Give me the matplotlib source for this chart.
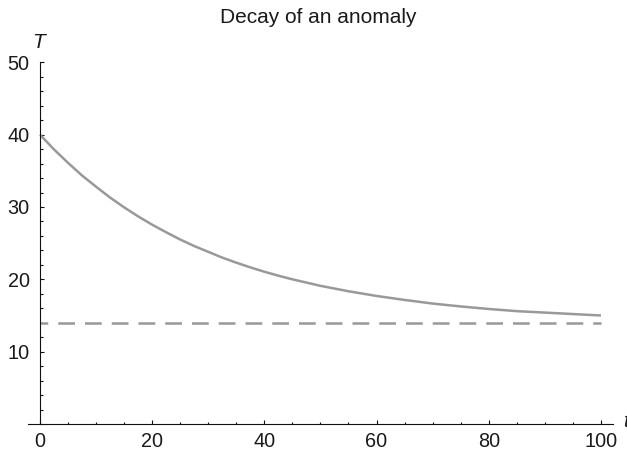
import matplotlib.pyplot as plt
from matplotlib.ticker import MultipleLocator

t = [0, 2.5, 5, 7.5, 10, 12.5, 15, 17.5, 20, 22.5, 25, 27.5, 30, 32.5, 35,
     37.5, 40, 42.5, 45, 47.5, 50, 55, 60, 65, 70, 75, 80, 85, 90, 95, 100]
T = [40.0, 37.95, 36.1, 34.35, 32.8, 31.3, 29.95, 28.7, 27.55, 26.5, 25.5,
     24.6, 23.8, 23.0, 22.3, 21.65, 21.05, 20.5, 20.0, 19.55, 19.1,
     18.35, 17.7, 17.15, 16.65, 16.25, 15.9, 15.6, 15.4, 15.2, 15.0]
T_eq = 14
x_ticks = [0, 20, 40, 60, 80, 100]
y_ticks = [10, 20, 30, 40, 50]

plt.rcParams['font.family'] = ['Liberation Sans', 'DejaVu Sans']

fig = plt.figure(figsize=(6.27, 4.54), dpi=100)
ax = fig.add_axes([0.04418, 0.06608, 0.93301, 0.7967])

gray = '#999999'
ax.plot(t, T, color=gray, lw=1.8, solid_capstyle='butt',
        solid_joinstyle='round', clip_on=False)
ax.plot([t[0], t[-1]], [T_eq, T_eq], color=gray, lw=1.8,
        linestyle=(3.6, (6.7, 4.0)), clip_on=False)

ax.set_xlim(-2.19, 102.1)
ax.set_ylim(0, 50)

for s in ['top', 'right']:
    ax.spines[s].set_visible(False)
ax.spines['left'].set_position(('data', 0))
for s in ['left', 'bottom']:
    ax.spines[s].set_linewidth(0.8)
    ax.spines[s].set_color('#111111')

ax.set_xticks(x_ticks)
ax.set_yticks(y_ticks)
ax.xaxis.set_minor_locator(MultipleLocator(5))
ax.yaxis.set_minor_locator(MultipleLocator(2))
ax.tick_params(which='both', direction='in', width=0.8, color='#111111',
               labelsize=14.3, labelcolor='#1a1a1a')
ax.tick_params(which='major', length=3.2)
ax.tick_params(which='minor', length=1.8)
ax.tick_params(axis='y', which='major', pad=7.5)
ax.tick_params(axis='x', which='major', pad=6)

fig.text(39 / 627, 1 - 48 / 454, 'T', fontstyle='italic', fontsize=15,
         ha='center', va='baseline', color='#1a1a1a')
fig.text(622.7 / 627, 1 - 427 / 454, 't', fontstyle='italic', fontsize=15,
         ha='left', va='baseline', color='#1a1a1a')
fig.text(318.7 / 627, 1 - 22.7 / 454, 'Decay of an anomaly', fontsize=15,
         ha='center', va='baseline', color='#1a1a1a')

fig.savefig('out.png', dpi=100)
